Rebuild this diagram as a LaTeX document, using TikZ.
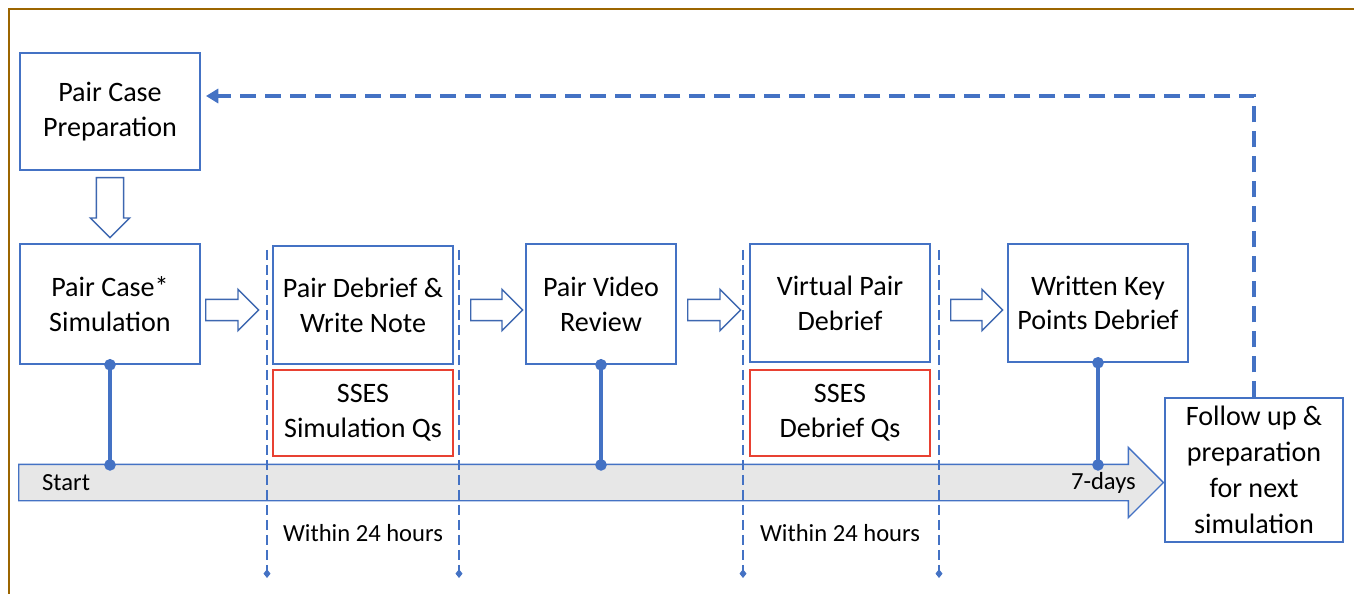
\documentclass[tikz,border=0pt]{standalone}
\usepackage{fontspec}
\setmainfont{Carlito}
\usetikzlibrary{arrows.meta,positioning,shapes.arrows}
\definecolor{boxblue}{RGB}{68,114,196}
\definecolor{qred}{RGB}{232,65,50}
\definecolor{framebrown}{RGB}{156,101,0}
\definecolor{bargray}{RGB}{231,231,231}

\begin{document}
\begin{tikzpicture}[x=0.02cm, y=-0.02cm,
    stepbox/.style={rectangle, draw=boxblue, line width=0.8pt, minimum width=3.6cm, align=center, font=\fontsize{16}{19.8}\selectfont},
    qbox/.style={stepbox, draw=qred},
    hollow/.style={single arrow, draw=boxblue!90!black, fill=white, line width=0.8pt, inner sep=0.2cm, minimum height=1.06cm, single arrow head extend=0.2cm, anchor=tail},
    stem/.style={boxblue, line width=1.9pt, {Circle[length=6.5pt]}-{Circle[length=6.5pt]}, shorten <=-3.2pt, shorten >=-3.2pt},
    window/.style={boxblue, line width=0.8pt, dash pattern=on 0.2cm off 0.1cm, -{Diamond[length=5pt,width=4pt]}},
    small/.style={font=\fontsize{14}{17}\selectfont}]
    \useasboundingbox (0,0) rectangle (1354,594);
    \draw[framebrown, line width=1.4pt] (9,594) -- (9,9) -- (1354,9);

    % time bar
    \node[single arrow, draw=boxblue, fill=bargray, line width=0.8pt, inner sep=0.35cm, minimum height=22.9cm, single arrow head extend=0.34cm, anchor=tail] (timeline) at (18,482.5) {};
    \coordinate (bartop) at (0,465);
    \node[small, anchor=west] (start) at (36,483) {Start};
    \node[small, anchor=east] (days) at (1142,483) {7-days};

    % 24 hour windows
    \foreach \wx in {267,459,743,939}
      \draw[window] (\wx,250) -- (\wx,578);
    \node[small] (within1) at (363,533) {Within 24 hours};
    \node[small] (within2) at (840,533) {Within 24 hours};

    % steps
    \node[stepbox, minimum height=2.34cm] (prep) at (110,111.5) {Pair Case\\Preparation};
    \node[stepbox, minimum height=2.4cm] (sim) at (110,304) {Pair Case*\\Simulation};
    \node[stepbox, minimum height=2.36cm] (debrief) at (363,305) {Pair Debrief \&\\Write Note};
    \node[qbox, minimum height=1.72cm] (simqs) at (363,413) {SSES\\Simulation Qs};
    \node[stepbox, minimum width=3cm, minimum height=2.4cm] (video) at (601,304) {Pair Video\\Review};
    \node[stepbox, minimum height=2.36cm] (virtual) at (840,303) {Virtual Pair\\Debrief};
    \node[qbox, minimum height=1.72cm] (debqs) at (840,413) {SSES\\Debrief Qs};
    \node[stepbox, minimum height=2.36cm] (keypts) at (1098,303) {Written Key\\Points Debrief};
    \node[stepbox, minimum width=3.56cm, minimum height=2.88cm, font=\fontsize{16}{20.5}\selectfont] (follow) at (1254,470) {Follow up \&\\preparation\\for next\\simulation};

    % hollow arrows
    \node[hollow, shape border rotate=270, inner sep=0.26cm, minimum height=1.2cm, single arrow head extend=0.12cm] (godown) at (110,177) {};
    \node[hollow] (go1) at (205,310) {};
    \node[hollow, minimum height=1.04cm] (go2) at (470,310) {};
    \node[hollow] (go3) at (687,310) {};
    \node[hollow, minimum height=1.04cm] (go4) at (950,310) {};

    \draw[stem] (sim.south) -- (sim.south |- bartop);
    \draw[stem] (video.south) -- (video.south |- bartop);
    \draw[stem] (keypts.south) -- (keypts.south |- bartop);

    \draw[boxblue, line width=2pt, dash pattern=on 0.32cm off 0.18cm, -{Triangle[length=7pt,width=8pt]}, shorten >=3pt] (follow.north) |- ([yshift=0.31cm]prep.east);
\end{tikzpicture}
\end{document}
